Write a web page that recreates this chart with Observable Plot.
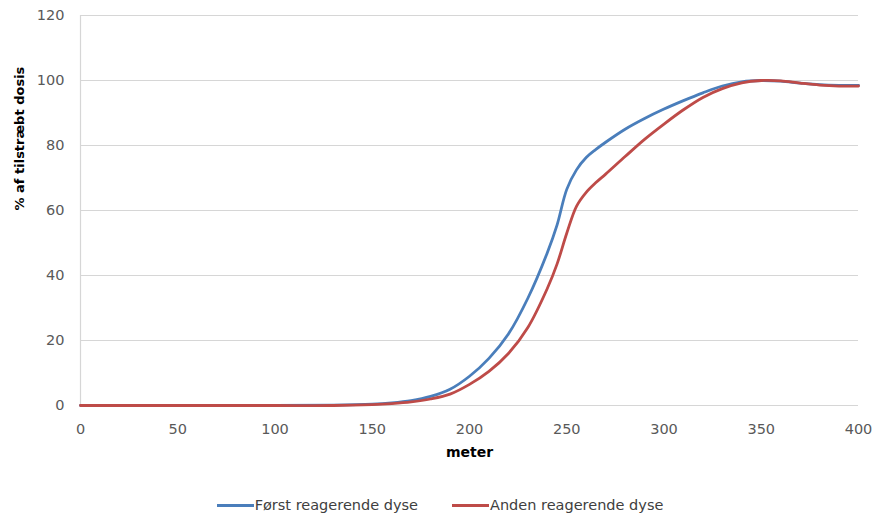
<!DOCTYPE html>
<html>
<head>
<meta charset="utf-8">
<script src="https://cdn.jsdelivr.net/npm/d3@7"></script>
<script src="https://cdn.jsdelivr.net/npm/@observablehq/plot@0.6"></script>
<style>
  body { margin: 0; background: #fff; font-family: "DejaVu Sans", sans-serif; }
  #chart { width: 875px; }
  .legend { display: flex; justify-content: center; align-items: center; gap: 34px;
            height: 50px; font-size: 14.5px; color: #404040; padding-left: 5px; }
  .legend span.item { display: flex; align-items: center; }
  .legend i { display: inline-block; width: 37px; height: 3px; margin-right: 1px; }
</style>
</head>
<body>
<div id="chart"></div>
<script>
// Distance along the run (meter)
const meters = [0, 50, 100, 130, 150, 160, 170, 180, 190, 200, 210, 220, 230, 240, 245, 250, 255, 260, 265, 270, 280, 290, 300, 310, 320, 330, 340, 350, 360, 370, 380, 390, 400];
// % of target dose, first responding nozzle
const first  = [0, 0, 0, 0.1, 0.4, 0.8, 1.5, 2.8, 5, 9, 14.5, 22, 33, 47, 55.5, 66.5, 72.5, 76.3, 78.8, 81, 85, 88.3, 91.2, 93.8, 96.2, 98.3, 99.6, 100, 99.8, 99.2, 98.7, 98.5, 98.5];
// % of target dose, second responding nozzle
const second = [0, 0, 0, 0, 0.3, 0.6, 1.1, 2, 3.5, 6.5, 10.5, 16, 24, 36, 43.5, 53, 61.3, 65.6, 68.6, 71.2, 76.6, 81.9, 86.6, 91, 94.8, 97.5, 99.3, 100, 99.9, 99.2, 98.6, 98.3, 98.3];
const seriesNames = ["Først reagerende dyse", "Anden reagerende dyse"];
const seriesColors = ["#4a7ebb", "#be4b48"];
const xTicks = [0, 50, 100, 150, 200, 250, 300, 350, 400];
const yTicks = [0, 20, 40, 60, 80, 100, 120];

const rows = [
  ...meters.map((m, i) => ({meter: m, value: first[i], series: seriesNames[0]})),
  ...meters.map((m, i) => ({meter: m, value: second[i], series: seriesNames[1]}))
];

const plot = Plot.plot({
  width: 875,
  height: 480,
  marginTop: 15,
  marginLeft: 80,
  marginRight: 17,
  marginBottom: 75,
  style: {fontFamily: "'DejaVu Sans', sans-serif", fontSize: "14px", color: "#595959"},
  x: {domain: [0, 400], ticks: xTicks},
  y: {domain: [0, 120], ticks: yTicks},
  color: {domain: seriesNames, range: seriesColors},
  marks: [
    Plot.gridY(yTicks, {stroke: "#d6d6d6", strokeOpacity: 1, strokeWidth: 1.2}),
    Plot.ruleX([0], {stroke: "#d6d6d6", strokeWidth: 1.2}),
    Plot.axisY(yTicks, {tickSize: 0, tickPadding: 16, label: null, fontSize: 14.5}),
    Plot.axisX(xTicks, {tickSize: 0, tickPadding: 18, label: null, fontSize: 14.5}),
    Plot.text(["% af tilstræbt dosis"], {frameAnchor: "left", dx: -61, rotate: -90,
      fontWeight: "bold", fill: "#000", fontSize: 13}),
    Plot.text(["meter"], {frameAnchor: "bottom", dy: 51, fontWeight: "bold", fill: "#000", fontSize: 14}),
    Plot.line(rows, {x: "meter", y: "value", stroke: "series", strokeWidth: 2.8, curve: "catmull-rom"})
  ]
});

const chart = document.getElementById("chart");
chart.append(plot);

const legend = document.createElement("div");
legend.className = "legend";
seriesNames.forEach((name, i) => {
  const item = document.createElement("span");
  item.className = "item";
  const sw = document.createElement("i");
  sw.style.background = seriesColors[i];
  item.append(sw, document.createTextNode(name));
  legend.append(item);
});
chart.append(legend);
</script>
</body>
</html>
